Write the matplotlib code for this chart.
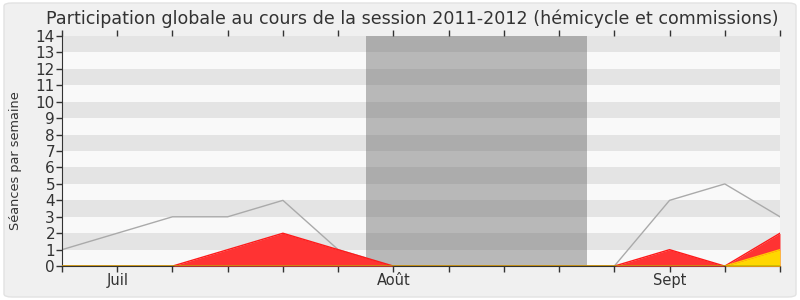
import matplotlib
matplotlib.use("Agg")
import matplotlib.pyplot as plt
from matplotlib.patches import FancyBboxPatch
import numpy as np

weeks = list(range(14))
total = [1, 2, 3, 3, 4, 1, 0, 0, 0, 0, 0, 4, 5, 3]
hemicycle = [0, 0, 0, 1, 2, 1, 0, 0, 0, 0, 0, 1, 0, 2]
commissions = [0, 0, 0, 0, 0, 0, 0, 0, 0, 0, 0, 0, 0, 1]
month_ticks = [1, 6, 11]
month_labels = ["Juil", "Août", "Sept"]
vacation = (5.5, 9.5)

fig = plt.figure(figsize=(8, 3), dpi=100)
fig.patch.set_facecolor("white")
bg = FancyBboxPatch((0.005, 0.01), 0.99, 0.98, boxstyle="round,pad=0,rounding_size=0.01",
                    transform=fig.transFigure, facecolor="#f0f0f0", edgecolor="#e2e2e2", lw=1,
                    zorder=-10)
fig.patches.append(bg)

ax = fig.add_axes([0.0775, 0.113, 0.8975, 0.767])
ax.set_zorder(1)
ax.set_facecolor("#f9f9f9")
for k in range(1, 14, 2):
    ax.axhspan(k, k + 1, color="#e4e4e4", lw=0, zorder=0)
ax.axvspan(vacation[0], vacation[1], color="#646464", alpha=0.43, lw=0, zorder=1)

ax.plot(weeks, total, color="#aaaaaa", lw=1, zorder=2)
ax.fill_between(weeks, 0, hemicycle, color="#ff3333", lw=0, zorder=3)
ax.plot(weeks, hemicycle, color="#ff1a1a", lw=1, zorder=3)
ax.fill_between(weeks, 0, commissions, color="#ffd700", lw=0, zorder=4)
ax.plot(weeks, commissions, color="#ffcc00", lw=1, zorder=4)
ax.plot(weeks, [0] * len(weeks), color="#006600", lw=1, zorder=5)

ax.set_xlim(0, 13)
ax.set_ylim(0, 14)
ax.set_yticks(range(15))
ax.set_xticks(weeks)
ax.set_xticklabels([month_labels[month_ticks.index(w)] if w in month_ticks else "" for w in weeks])
ax.tick_params(axis="both", colors="#333333", length=4, width=1)
ax.tick_params(axis="x", top=True, direction="out", labelsize=10.5, pad=1)
ax.tick_params(axis="x", which="major", top=True)
ax.tick_params(axis="y", pad=1, labelsize=11)
ax.set_ylabel("Séances par semaine", fontsize=9.3, color="#333333")
ax.yaxis.set_label_coords(-0.056, 0.46)
for s in ["top", "right"]:
    ax.spines[s].set_visible(False)
ax.spines["left"].set_color("#333333")
ax.spines["bottom"].set_color("#333333")
fig.suptitle("Participation globale au cours de la session 2011-2012 (hémicycle et commissions)",
             fontsize=12.6, color="#333333", x=0.515, y=0.968)

fig.savefig("out.png", dpi=100, facecolor=fig.get_facecolor())
